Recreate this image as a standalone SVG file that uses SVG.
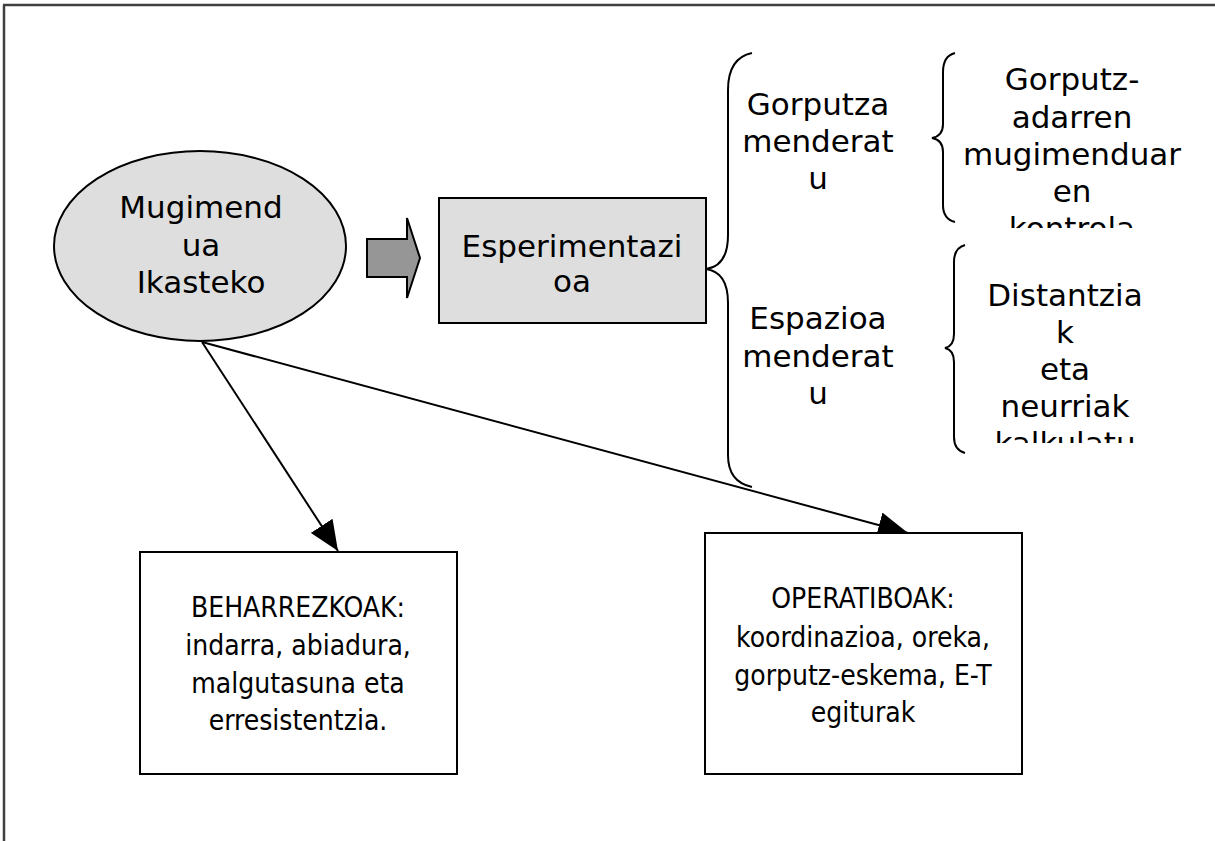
<svg xmlns="http://www.w3.org/2000/svg" width="1215" height="841" viewBox="0 0 1215 841">
<defs>
<style>
.t{font-family:"DejaVu Sans","Liberation Sans",sans-serif;font-size:31px;fill:#000;text-anchor:middle}
.c{font-family:"DejaVu Sans Condensed","DejaVu Sans","Liberation Sans",sans-serif;font-stretch:condensed;font-size:28px;fill:#000;text-anchor:middle}
.ln{fill:none;stroke:#000;stroke-width:2}
.br{fill:none;stroke:#000;stroke-width:2}
</style>
<marker id="ah" markerWidth="30" markerHeight="26" refX="30" refY="13" orient="auto" markerUnits="userSpaceOnUse">
<path d="M0,0 L30,13 L0,26 Z" fill="#000"/>
</marker>
<clipPath id="clip1"><rect x="940" y="40" width="275" height="188"/></clipPath>
<clipPath id="clip2"><rect x="940" y="240" width="275" height="203"/></clipPath>
</defs>
<rect width="1215" height="841" fill="#fff"/>
<g id="frame">
<path d="M3,5 H1215 M4,5 V841" fill="none" stroke="#404040" stroke-width="2.5"/>
</g>
<g id="connectors">
<line class="ln" x1="202" y1="342" x2="338" y2="551" marker-end="url(#ah)"/>
<line class="ln" x1="202" y1="342" x2="908" y2="533" marker-end="url(#ah)"/>
<path d="M367,239 H407 V218 L420,258 L407,298 V277 H367 Z" fill="#969696" stroke="#000" stroke-width="2"/>
</g>
<g id="node-mugimendua">
<ellipse cx="200" cy="246" rx="146" ry="95" fill="#dedede" stroke="#000" stroke-width="2"/>
<text class="t" x="201" y="218">Mugimend</text>
<text class="t" x="201" y="256">ua</text>
<text class="t" x="201" y="293">Ikasteko</text>
</g>
<g id="node-esperimentazioa">
<rect x="439" y="198" width="267" height="125" fill="#dedede" stroke="#000" stroke-width="2"/>
<text class="t" x="572" y="257">Esperimentazi</text>
<text class="t" x="572" y="292">oa</text>
</g>
<g id="brace-main">
<path class="br" d="M752,53 Q728,58 728,90 L728,235 Q728,266 706,269 Q728,272 728,303 L728,455 Q728,482 752,487"/>
</g>
<g id="node-gorputza">
<text class="t" x="818" y="115">Gorputza</text>
<text class="t" x="818" y="152">menderat</text>
<text class="t" x="818" y="189">u</text>
</g>
<g id="brace-1">
<path class="br" d="M955,53 Q943,56 943,72 L943,124 Q943,136 932,138 Q943,140 943,152 L943,205 Q943,219 955,222"/>
</g>
<g id="node-gorputz-adarren" clip-path="url(#clip1)">
<text class="t" x="1072" y="90">Gorputz-</text>
<text class="t" x="1072" y="128">adarren</text>
<text class="t" x="1072" y="165">mugimenduar</text>
<text class="t" x="1072" y="202">en</text>
<text class="t" x="1072" y="239">kontrola</text>
</g>
<g id="node-espazioa">
<text class="t" x="818" y="329">Espazioa</text>
<text class="t" x="818" y="367">menderat</text>
<text class="t" x="818" y="404">u</text>
</g>
<g id="brace-2">
<path class="br" d="M965,245 Q954,248 954,262 L954,334 Q954,346 945,348 Q954,350 954,362 L954,437 Q954,450 965,453"/>
</g>
<g id="node-distantziak" clip-path="url(#clip2)">
<text class="t" x="1065" y="306">Distantzia</text>
<text class="t" x="1065" y="343">k</text>
<text class="t" x="1065" y="380">eta</text>
<text class="t" x="1065" y="417">neurriak</text>
<text class="t" x="1065" y="454">kalkulatu</text>
</g>
<g id="node-beharrezkoak">
<rect x="140" y="552" width="317" height="222" fill="#fff" stroke="#000" stroke-width="2"/>
<text class="c" x="298" y="617">BEHARREZKOAK:</text>
<text class="c" x="298" y="655">indarra, abiadura,</text>
<text class="c" x="298" y="693">malgutasuna eta</text>
<text class="c" x="298" y="730">erresistentzia.</text>
</g>
<g id="node-operatiboak">
<rect x="705" y="533" width="317" height="241" fill="#fff" stroke="#000" stroke-width="2"/>
<text class="c" x="863" y="608">OPERATIBOAK:</text>
<text class="c" x="863" y="647">koordinazioa, oreka,</text>
<text class="c" x="863" y="685">gorputz-eskema, E-T</text>
<text class="c" x="863" y="722">egiturak</text>
</g>
</svg>
